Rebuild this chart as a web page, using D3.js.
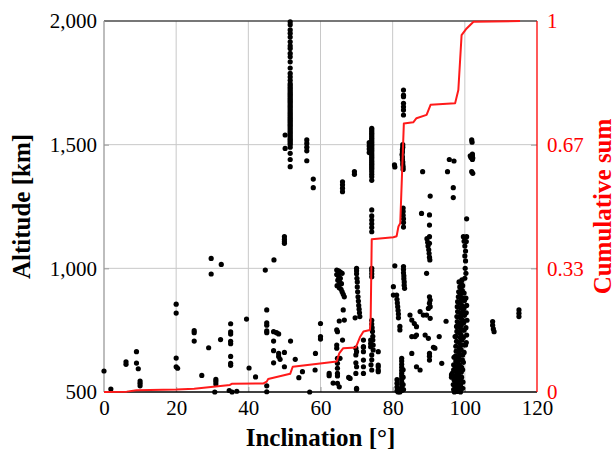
<!DOCTYPE html>
<html>
<head>
<meta charset="utf-8">
<script src="https://cdn.jsdelivr.net/npm/d3@7"></script>
<style>
    body { margin: 0; background: #fff; }
    svg text { font-family: "Liberation Serif", "DejaVu Serif", serif; }
</style>
</head>
<body>
<div id="chart"></div>
<script>
    // x ticks / y ticks
    var incTicks = [0, 20, 40, 60, 80, 100, 120];
    var altTicks = [500, 1000, 1500, 2000];
    var cumTicks = [0, 1 / 3, 2 / 3, 1];
    var cumTickLabels = ["0", "0.33", "0.67", "1"];

    // objects below 45 deg
    var lowIncPoints = [
        [0, 585], [1.9, 512], [6.1, 612], [6.1, 622], [9, 663], [9, 617], [9.5, 594], [10, 544], [10, 535], [10, 525],
        [20, 855], [20, 819], [20, 637], [20, 602], [20.4, 596], [25, 748], [25, 740], [25, 706], [27.1, 567], [29, 679],
        [29.7, 1040], [29.7, 977], [32.5, 1016], [31, 551], [31, 542], [31, 532], [30.7, 500], [32.3, 712],
        [35.1, 776], [35.1, 743], [35.1, 734], [35.1, 705], [35.1, 695], [35.1, 644], [35.1, 616], [35.1, 608],
        [34.7, 506], [35.5, 500], [36.8, 503], [39.5, 795], [40.2, 597], [42, 561]
    ];

    // 44 - 62 deg
    var midIncPoints = [
        [44.7, 993], [47.1, 1034], [50, 1128], [50, 1117], [50, 1107], [50, 1101], [45.1, 832], [45.1, 780], [45.1, 770],
        [45.1, 747], [45.1, 740], [47, 744], [47.8, 740], [48.4, 735], [47, 706], [47, 667], [47, 618], [48.4, 656],
        [48.4, 644], [48.8, 632], [50, 660], [50, 602], [51.7, 706], [53, 632], [54, 558], [55, 582], [57, 500],
        [58.5, 589], [58.6, 656], [45.1, 501], [45.1, 525], [60, 777], [60, 724], [60, 714], [62.4, 575], [62.4, 566],
        [50.2, 1539], [50.2, 1485], [56.2, 1519], [56.2, 1505], [56.2, 1490], [56.2, 1475], [56.2, 1435], [58, 1361], [58, 1326]
    ];

    // the 51.6 deg column
    var issAlts = [
        1997, 1985, 1964, 1950, 1935, 1916, 1900, 1889, 1869, 1855, 1835, 1810, 1788, 1774, 1760, 1747, 1740, 1732,
        1725, 1718, 1711, 1704, 1697, 1690, 1683, 1676, 1669, 1662, 1655, 1648, 1641, 1634, 1627, 1620, 1613, 1606,
        1599, 1592, 1585, 1578, 1571, 1564, 1557, 1550, 1543, 1536, 1529, 1522, 1515, 1508, 1501, 1490, 1465, 1440, 1411
    ];

    // 63 - 77 deg
    var incPoints65 = [
        [66.1, 1350], [66.1, 1338], [66.1, 1324], [66.1, 1310], [69.4, 1391], [69.4, 1380],
        [74.2, 1236], [74.2, 1212], [74.2, 1195], [74.2, 1180], [74.2, 1165], [74.2, 1148],
        [73.5, 1508], [73.5, 1495], [73.5, 1482], [73.5, 1468],
        [64.5, 993], [65, 990], [65.5, 985], [66, 980], [64.5, 975], [65, 968], [65.5, 960], [64.8, 952], [65.3, 945],
        [65.8, 938], [64.6, 930], [65.2, 922], [65.7, 915], [66, 905], [66.3, 895], [66.6, 885],
        [70, 1000], [70, 990], [70, 978], [70.1, 960], [70.2, 945], [70.2, 925], [70.3, 905], [70.4, 885], [70.5, 868],
        [70.6, 850], [70.7, 835], [70.8, 820], [70.9, 805],
        [74.2, 1000], [74.2, 990], [74.2, 978], [74.2, 966],
        [69.6, 800], [66.3, 832], [66.6, 791], [64.5, 751], [65.2, 787], [74.2, 790], [74.2, 775], [74.3, 760], [74.4, 745],
        [74.5, 725], [74.5, 710], [74.6, 690], [74.6, 670],
        [64.7, 744], [66.1, 710], [64.7, 636], [65.4, 636], [64.7, 616], [64.7, 596], [64.7, 575], [64.7, 565], [64.7, 535],
        [65.2, 521], [63.5, 536], [67.8, 559], [68.2, 555], [69.8, 677], [69.8, 650], [69.8, 618], [70, 602], [69.8, 575],
        [70, 515], [70, 511], [71.9, 710], [71.9, 681], [71.9, 663], [71.9, 629], [71.9, 602], [71.9, 575],
        [73.9, 710], [73.9, 696], [73.9, 683], [74.2, 650], [74.2, 630], [74, 610], [74.2, 589], [76, 663], [76, 609],
        [76, 589], [76, 602], [76, 582], [64.5, 690], [64.5, 677], [70, 663], [71.9, 684]
    ];

    var col74Alts = [
        1566, 1560, 1553, 1546, 1540, 1533, 1526, 1519, 1512, 1505, 1498, 1491, 1484, 1477, 1470, 1463, 1456, 1449,
        1442, 1435, 1428, 1421, 1414, 1407, 1400, 1390, 1380, 1370, 1356
    ];

    // 79 - 97 deg
    var incPoints85 = [
        [80.5, 1418], [80.6, 1410], [83, 1721], [83, 1700], [83, 1694], [83, 1667], [83, 1653], [83, 1640], [83, 1620],
        [82.8, 1500], [82.8, 1490], [82.7, 1480], [82.7, 1470], [82.6, 1460], [82.7, 1450], [82.7, 1440], [82.8, 1430],
        [82.8, 1420], [82.9, 1410], [82.9, 1400],
        [82.9, 1244], [82.9, 1230], [82.9, 1215], [83, 1200], [83, 1185], [83, 1167],
        [88.3, 1391], [90.4, 1292], [88, 1222], [90.2, 1216], [90.2, 1175], [90.2, 1128], [90.2, 1101],
        [95.7, 1440], [97, 1434], [95.2, 1391], [96.8, 1326], [96.8, 1286],
        [89.5, 1120], [89.7, 1105], [89.8, 1090], [90, 1075], [90.1, 1060], [90.2, 1045], [90.3, 1034], [89.4, 980],
        [80.6, 1010], [83, 1007], [83, 995], [83, 982], [83.1, 970], [83.1, 958], [83.2, 945], [83.2, 932], [83.3, 919],
        [80.2, 926], [80.2, 892], [81.1, 892], [81.2, 875], [81.3, 860], [81.4, 845], [81.5, 830], [81.6, 815], [81.6, 800],
        [82, 765], [82, 751],
        [82.5, 636], [82.5, 625], [82.5, 612], [82.5, 600], [82.5, 588], [82.5, 576], [82.5, 565], [82.5, 553],
        [82.5, 541], [82.5, 530], [82.5, 518], [82.5, 506], [81.2, 550], [81.2, 535], [81.2, 520], [81.2, 505],
        [82, 500], [81.5, 500], [83, 510], [82.9, 590], [82.9, 560], [82.9, 530], [81.6, 512],
        [85.3, 791], [86, 777], [86.6, 764], [86.6, 730], [85.3, 724], [86.2, 724], [84.8, 811],
        [87.6, 825], [88.5, 811], [89.4, 811], [90.4, 798], [89.9, 838], [90.2, 859], [90.2, 885], [90.4, 872], [90.4, 845],
        [89, 730], [89.9, 717], [91.3, 681], [91.7, 677], [85.3, 656], [86.6, 602], [87.6, 589],
        [90.2, 656], [90.2, 645], [90.2, 629], [93.6, 616], [92.9, 724], [94.8, 786], [96.3, 569], [97.3, 724]
    ];

    // the sun-synchronous band
    var incPoints98 = [
        [99.2, 953], [99.0, 940], [99.4, 930], [98.9, 920], [99.3, 910], [99.0, 900], [98.7, 890], [99.3, 880], [99.0, 870],
        [98.6, 860], [99.2, 850], [98.9, 840], [99.5, 830], [98.7, 820], [99.1, 810], [98.8, 800], [99.4, 790], [98.6, 780],
        [99.0, 770], [98.7, 760], [99.3, 750], [98.5, 740], [99.0, 730], [98.7, 720], [99.2, 710], [98.4, 700], [98.9, 690],
        [98.5, 680], [99.0, 670], [98.3, 660], [98.7, 650], [98.2, 640], [98.6, 630], [98.1, 620], [98.5, 610], [98.0, 600],
        [98.4, 590], [97.9, 580], [98.3, 570], [97.8, 560], [98.2, 550], [97.9, 540], [98.3, 530], [97.8, 520], [98.1, 510],
        [97.9, 502],
        [98.4, 945], [98.6, 925], [98.3, 905], [98.2, 885], [98.0, 865], [97.9, 845], [98.0, 825], [97.8, 805], [97.9, 785],
        [97.7, 765], [97.8, 745], [97.6, 725], [97.7, 705], [97.5, 685], [97.6, 665], [97.4, 645], [97.5, 625], [97.3, 605],
        [97.4, 585], [97.2, 565], [97.3, 545], [97.2, 525], [97.4, 505],
        [100.3, 880], [100.5, 850], [100.4, 820], [100.6, 790], [100.3, 760], [100.5, 730], [100.4, 700], [100.2, 690],
        [99.8, 660], [99.6, 620], [99.4, 590], [99.1, 560], [98.8, 530], [98.6, 510], [96.3, 560], [96.5, 575],
        [99.8, 900], [99.9, 870], [99.8, 840], [99.9, 810], [99.7, 780], [99.8, 750], [99.6, 720], [99.6, 690],
        [99.4, 650], [99.3, 630], [99.1, 600], [99.0, 580], [98.9, 550], [98.9, 520], [98.8, 500],
        [97.0, 640], [96.9, 610], [96.9, 590], [97.0, 550], [96.8, 530], [96.9, 510], [97.1, 500], [99.5, 540], [99.4, 515],
        [100, 1050], [100.2, 1030], [100.1, 1000], [100.3, 980], [100, 960], [99.6, 1128], [99.8, 1110], [100, 1090],
        [100.2, 1070], [100.5, 1128], [100.5, 1200], [100.4, 1108],
        [101.9, 1519], [102, 1510], [102.1, 1462], [102.1, 1455], [102.2, 1446], [102.1, 1440], [101.9, 1391], [102.2, 1384],
        [101.5, 1455], [101.7, 1448],
        [107.7, 785], [107.7, 770], [107.9, 755], [108.1, 744], [115, 832], [115, 818], [115, 805]
    ];

    // cumulative share of objects by inclination
    var cumInc = [0, 6.3, 9, 20.1, 25, 30.3, 34.9, 35.4, 44.2, 45.1, 45.5, 51.6, 52.3, 59.9, 64.5, 65.2, 66.3, 69.8, 71,
        71.9, 73.7, 73.9, 74.2, 80.2, 81.1, 81.6, 82.1, 83.1, 85.7, 86.6, 89.4, 90.5, 97.3, 98.2, 99.1, 100.5, 102.4, 115.3];
    var cumVal = [0, 0.001, 0.005, 0.007, 0.009, 0.014, 0.019, 0.022, 0.023, 0.028, 0.035, 0.049, 0.068, 0.077, 0.082,
        0.104, 0.118, 0.12, 0.149, 0.163, 0.167, 0.194, 0.412, 0.417, 0.42, 0.446, 0.455, 0.724, 0.727, 0.738, 0.747,
        0.774, 0.778, 0.814, 0.962, 0.98, 0.998, 1.0];

    var width = 616;
    var height = 453;
    var mLeft = 104, mRight = 537, mTop = 21, mBottom = 392;

    var points = lowIncPoints
        .concat(midIncPoints)
        .concat(issAlts.map(function (a) { return [51.6, a]; }))
        .concat(incPoints65)
        .concat(col74Alts.map(function (a) { return [74.2, a]; }))
        .concat(incPoints85)
        .concat(incPoints98);

    var x = d3.scaleLinear().domain([0, 120]).range([mLeft, mRight]);
    var y = d3.scaleLinear().domain([500, 2000]).range([mBottom, mTop]);
    var y2 = d3.scaleLinear().domain([0, 1]).range([mBottom, mTop]);

    var svg = d3.select("#chart")
        .append("svg")
        .attr("width", width)
        .attr("height", height);

    // grid
    svg.append("g")
        .selectAll("line")
        .data(incTicks.slice(1, -1))
        .enter()
        .append("line")
        .attr("x1", function (d) { return x(d); })
        .attr("x2", function (d) { return x(d); })
        .attr("y1", mTop)
        .attr("y2", mBottom)
        .style("stroke", "#c8c8c8")
        .style("stroke-width", 1);

    svg.append("g")
        .selectAll("line")
        .data(altTicks.slice(1, -1))
        .enter()
        .append("line")
        .attr("x1", mLeft)
        .attr("x2", mRight)
        .attr("y1", function (d) { return y(d); })
        .attr("y2", function (d) { return y(d); })
        .style("stroke", "#c8c8c8")
        .style("stroke-width", 1);

    // inner tick marks
    var xAxis = d3.axisBottom(x).tickValues(incTicks).tickSize(-5).tickPadding(8).tickFormat(d3.format("d"));
    var yAxis = d3.axisLeft(y).tickValues(altTicks).tickSize(-5).tickPadding(7).tickFormat(d3.format(","));
    var y2Axis = d3.axisRight(y2).tickValues(cumTicks).tickSize(-6).tickPadding(10)
        .tickFormat(function (d, i) { return cumTickLabels[i]; });

    var gx = svg.append("g").attr("transform", "translate(0," + mBottom + ")").call(xAxis);
    var gy = svg.append("g").attr("transform", "translate(" + mLeft + ",0)").call(yAxis);
    var gy2 = svg.append("g").attr("transform", "translate(" + mRight + ",0)").call(y2Axis);

    [gx, gy, gy2].forEach(function (g) {
        g.select(".domain").remove();
        g.selectAll(".tick line").style("stroke", "#9a9a9a");
        g.selectAll(".tick text")
            .style("font-family", "'Liberation Serif', serif")
            .style("font-size", "21px")
            .style("fill", "#000");
    });
    gy2.selectAll(".tick text").style("fill", "#ff0000");
    gx.selectAll(".tick line").filter(function (d) { return d === 0 || d === 120; }).remove();
    gy.selectAll(".tick line").filter(function (d) { return d === 500 || d === 2000; }).remove();
    gy2.selectAll(".tick line").filter(function (d) { return d === 0 || d === 1; }).remove();

    // frame
    svg.append("line").attr("x1", mLeft).attr("x2", mRight).attr("y1", mTop).attr("y2", mTop)
        .style("stroke", "#4a4a4a").style("stroke-width", 1.3);
    svg.append("line").attr("x1", mLeft).attr("x2", mLeft).attr("y1", mTop).attr("y2", mBottom)
        .style("stroke", "#9a9a9a").style("stroke-width", 1.3);
    svg.append("line").attr("x1", mLeft).attr("x2", mRight).attr("y1", mBottom).attr("y2", mBottom)
        .style("stroke", "#000").style("stroke-width", 1.3);

    // scatter
    svg.append("g")
        .selectAll("circle")
        .data(points)
        .enter()
        .append("circle")
        .attr("cx", function (d) { return x(d[0]); })
        .attr("cy", function (d) { return y(d[1]); })
        .attr("r", 2.6)
        .attr("fill", "#000");

    // cumulative line
    var line = d3.line()
        .x(function (d) { return x(d[0]); })
        .y(function (d) { return y2(d[1]); });

    svg.append("path")
        .datum(cumInc.map(function (v, i) { return [v, cumVal[i]]; }))
        .attr("d", line)
        .style("fill", "none")
        .style("stroke", "#ff1a1a")
        .style("stroke-width", 2)
        .style("stroke-linejoin", "round");

    svg.append("line").attr("x1", mRight).attr("x2", mRight).attr("y1", mTop).attr("y2", mBottom)
        .style("stroke", "#ff0000").style("stroke-width", 1.3);

    // axis titles
    svg.append("text")
        .attr("x", (mLeft + mRight) / 2)
        .attr("y", 446)
        .attr("text-anchor", "middle")
        .style("font-size", "25px")
        .style("font-weight", "bold")
        .text("Inclination [°]");

    svg.append("text")
        .attr("transform", "translate(30," + (mTop + mBottom) / 2 + ") rotate(-90)")
        .attr("text-anchor", "middle")
        .style("font-size", "25px")
        .style("font-weight", "bold")
        .text("Altitude [km]");

    svg.append("text")
        .attr("transform", "translate(611," + (mTop + mBottom) / 2 + ") rotate(-90)")
        .attr("text-anchor", "middle")
        .style("font-size", "25px")
        .style("font-weight", "bold")
        .style("fill", "#ff0000")
        .text("Cumulative sum");
</script>
</body>
</html>
